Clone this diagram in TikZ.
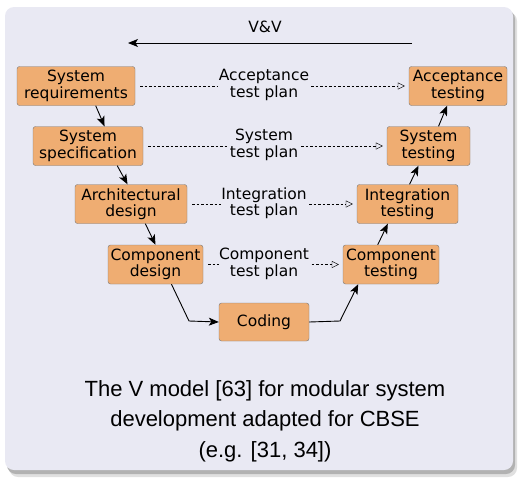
\documentclass[tikz,border=0pt]{standalone}
\usepackage{fontspec}
\setmainfont{DejaVu Sans}
\newfontfamily\capfont{Liberation Sans}
\usetikzlibrary{arrows.meta}

\definecolor{blockbg}{RGB}{233,233,243}
\definecolor{phasefill}{RGB}{239,173,114}
\definecolor{phaseline}{RGB}{120,120,120}

\tikzset{
  phasebox/.style={draw=phaseline,fill=phasefill,rounded corners=2.5pt,align=center,
    minimum height=39pt,inner xsep=2pt,inner ysep=1pt,font=\fontsize{15.5}{16.5}\selectfont},
  flow/.style={-{Stealth[length=10pt,width=8pt,inset=2.5pt]},line width=0.9pt},
  plan/.style={dash pattern=on 2.5pt off 2pt,-{Triangle[open,length=7pt,width=7pt]},shorten <=5pt,shorten >=4pt},
  planlabel/.style={fill=blockbg,inner sep=0.5pt,align=center,font=\fontsize{15.5}{16.5}\selectfont}
}

\begin{document}
\begin{tikzpicture}[x=1pt,y=1pt,yscale=-1,xscale=1]
\useasboundingbox (0,0) rectangle (518,479);
%block + shadow
\fill[black!12,rounded corners=9pt] (9,12) rectangle (517,477);
\fill[black!30,rounded corners=9pt] (7,10) rectangle (515,474);
\fill[blockbg,rounded corners=9pt] (5,7) rectangle (513,470);

%V&V
\coordinate (vvright) at (412,43);
\coordinate (vvleft) at (128,43);
\draw[flow] (vvright) -- (vvleft);
\node[font=\fontsize{15.5}{16.5}\selectfont] (vv) at (265,27) {V\&V};

%left branch
\node[phasebox,minimum width=118pt] (sysreq) at (76,86) {System\\requirements};
\node[phasebox,minimum width=110pt] (sysspec) at (88,146) {System\\specification};
\node[phasebox,minimum width=112pt] (archdesign) at (131,204) {Architectural\\design};
\node[phasebox,minimum width=95pt] (compdesign) at (155.5,264.5) {Component\\design};
%bottom
\node[phasebox,minimum width=90pt,minimum height=38pt] (coding) at (264,322) {Coding};
%right branch
\node[phasebox,minimum width=96pt] (comptest) at (391,264.5) {Component\\testing};
\node[phasebox,minimum width=101pt] (inttest) at (407.5,204) {Integration\\testing};
\node[phasebox,minimum width=83pt] (systest) at (428.5,146) {System\\testing};
\node[phasebox,minimum width=98pt] (acctest) at (458,86) {Acceptance\\testing};

%down and up
\draw[flow] (sysreq.-45) -- (sysspec.50);
\draw[flow] (sysspec.-34) -- (archdesign.100);
\draw[flow] (archdesign.-54) -- (compdesign.north);
\coordinate (bendl) at (189,321);
\coordinate (bendr) at (340,321);
\draw[flow] (compdesign.-51) -- (bendl) -- (coding.west);
\draw[flow] (coding.east) -- (bendr) -- (comptest.-149);
\draw[flow] (comptest.124) -- (inttest.-135);
\draw[flow] (inttest.84) -- (systest.-117);
\draw[flow] (systest.63) -- (acctest.-119);

%test plans
\draw[plan] (sysreq.east) -- (acctest.west);
\node[planlabel] (accplan) at (264,85) {Acceptance\\test plan};
\draw[plan] (sysspec.east) -- (systest.west);
\node[planlabel] (sysplan) at (264,145) {System\\test plan};
\draw[plan] (archdesign.east) -- (inttest.west);
\node[planlabel] (intplan) at (264,203) {Integration\\test plan};
\draw[plan] (compdesign.east) -- (comptest.west);
\node[planlabel] (compplan) at (264,264) {Component\\test plan};

%caption
\node[align=center,font=\capfont\fontsize{22}{30.5}\selectfont] (caption) at (265,421)
  {The V model [63] for modular system\\development adapted for CBSE\\(e.g. [31, 34])};
\end{tikzpicture}
\end{document}
